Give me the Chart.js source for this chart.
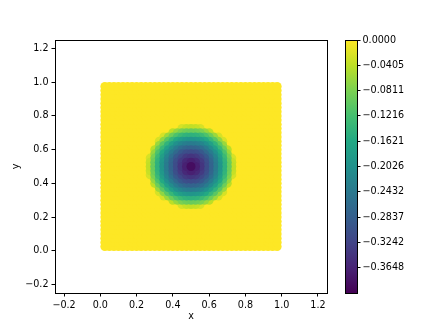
<!DOCTYPE html>
<html>
<head>
<meta charset="utf-8">
<script src="https://cdn.jsdelivr.net/npm/chart.js@4.4.1/dist/chart.umd.min.js"></script>
<style>
  html, body { margin: 0; padding: 0; background: #fff; }
  #wrap { position: relative; width: 439px; height: 329px; }
  #wrap canvas { position: absolute; left: 0; top: 0; }
</style>
</head>
<body>
<div id="wrap">
  <canvas id="field" width="439" height="329"></canvas>
  <canvas id="cbar" width="439" height="329"></canvas>
</div>
<script>
// grid point positions (same for x and y)
const gridPts = [0.025, 0.05, 0.075, 0.1, 0.125, 0.15, 0.175, 0.2, 0.225, 0.25,
                 0.275, 0.3, 0.325, 0.35, 0.375, 0.4, 0.425, 0.45, 0.475, 0.5,
                 0.525, 0.55, 0.575, 0.6, 0.625, 0.65, 0.675, 0.7, 0.725, 0.75,
                 0.775, 0.8, 0.825, 0.85, 0.875, 0.9, 0.925, 0.95, 0.975];

// values in the central block (grid index 10..28, i.e. 0.275..0.725), zero elsewhere
const blockStart = 10;
const blockVals = [
  [0,0,0,0,0,0,0,-0.025,-0.035,-0.038,-0.035,-0.025,0,0,0,0,0,0,0],
  [0,0,0,0,0,-0.041,-0.064,-0.081,-0.091,-0.094,-0.091,-0.081,-0.064,-0.041,0,0,0,0,0],
  [0,0,0,-0.025,-0.061,-0.091,-0.115,-0.132,-0.143,-0.147,-0.143,-0.132,-0.115,-0.091,-0.061,-0.025,0,0,0],
  [0,0,-0.025,-0.068,-0.105,-0.136,-0.161,-0.179,-0.191,-0.195,-0.191,-0.179,-0.161,-0.136,-0.105,-0.068,-0.025,0,0],
  [0,0,-0.061,-0.105,-0.143,-0.176,-0.202,-0.222,-0.234,-0.238,-0.234,-0.222,-0.202,-0.176,-0.143,-0.105,-0.061,0,0],
  [0,-0.041,-0.091,-0.136,-0.176,-0.210,-0.238,-0.259,-0.273,-0.277,-0.273,-0.259,-0.238,-0.210,-0.176,-0.136,-0.091,-0.041,0],
  [0,-0.064,-0.115,-0.161,-0.202,-0.238,-0.268,-0.292,-0.307,-0.312,-0.307,-0.292,-0.268,-0.238,-0.202,-0.161,-0.115,-0.064,0],
  [-0.025,-0.081,-0.132,-0.179,-0.222,-0.259,-0.292,-0.318,-0.336,-0.343,-0.336,-0.318,-0.292,-0.259,-0.222,-0.179,-0.132,-0.081,-0.025],
  [-0.035,-0.091,-0.143,-0.191,-0.234,-0.273,-0.307,-0.336,-0.358,-0.369,-0.358,-0.336,-0.307,-0.273,-0.234,-0.191,-0.143,-0.091,-0.035],
  [-0.038,-0.094,-0.147,-0.195,-0.238,-0.277,-0.312,-0.343,-0.369,-0.391,-0.369,-0.343,-0.312,-0.277,-0.238,-0.195,-0.147,-0.094,-0.038],
  [-0.035,-0.091,-0.143,-0.191,-0.234,-0.273,-0.307,-0.336,-0.358,-0.369,-0.358,-0.336,-0.307,-0.273,-0.234,-0.191,-0.143,-0.091,-0.035],
  [-0.025,-0.081,-0.132,-0.179,-0.222,-0.259,-0.292,-0.318,-0.336,-0.343,-0.336,-0.318,-0.292,-0.259,-0.222,-0.179,-0.132,-0.081,-0.025],
  [0,-0.064,-0.115,-0.161,-0.202,-0.238,-0.268,-0.292,-0.307,-0.312,-0.307,-0.292,-0.268,-0.238,-0.202,-0.161,-0.115,-0.064,0],
  [0,-0.041,-0.091,-0.136,-0.176,-0.210,-0.238,-0.259,-0.273,-0.277,-0.273,-0.259,-0.238,-0.210,-0.176,-0.136,-0.091,-0.041,0],
  [0,0,-0.061,-0.105,-0.143,-0.176,-0.202,-0.222,-0.234,-0.238,-0.234,-0.222,-0.202,-0.176,-0.143,-0.105,-0.061,0,0],
  [0,0,-0.025,-0.068,-0.105,-0.136,-0.161,-0.179,-0.191,-0.195,-0.191,-0.179,-0.161,-0.136,-0.105,-0.068,-0.025,0,0],
  [0,0,0,-0.025,-0.061,-0.091,-0.115,-0.132,-0.143,-0.147,-0.143,-0.132,-0.115,-0.091,-0.061,-0.025,0,0,0],
  [0,0,0,0,0,-0.041,-0.064,-0.081,-0.091,-0.094,-0.091,-0.081,-0.064,-0.041,0,0,0,0,0],
  [0,0,0,0,0,0,0,-0.025,-0.035,-0.038,-0.035,-0.025,0,0,0,0,0,0,0]
];

const axisTicks = [-0.2, 0.0, 0.2, 0.4, 0.6, 0.8, 1.0, 1.2];
const cbMin = -0.4053;
const cbMax = 0;
const cbTicks = [0, -0.0405, -0.0811, -0.1216, -0.1621, -0.2026, -0.2432, -0.2837, -0.3242, -0.3648];
const cbTickLabels = ['0.0000', '\u22120.0405', '\u22120.0811', '\u22120.1216', '\u22120.1621',
                      '\u22120.2026', '\u22120.2432', '\u22120.2837', '\u22120.3242', '\u22120.3648'];

// viridis colormap stops
const viridis = ['#440154', '#482475', '#414487', '#355f8d', '#2a788e', '#21918c',
                 '#22a884', '#44bf70', '#7ad151', '#bddf26', '#fde725'];

function hexToRgb(h) {
    return [parseInt(h.slice(1, 3), 16), parseInt(h.slice(3, 5), 16), parseInt(h.slice(5, 7), 16)];
}
const viridisRgb = viridis.map(hexToRgb);

function cmap(v) {
    let t = (v - cbMin) / (cbMax - cbMin);
    t = Math.max(0, Math.min(1, t));
    const p = t * (viridisRgb.length - 1);
    const i = Math.min(Math.floor(p), viridisRgb.length - 2);
    const f = p - i;
    const a = viridisRgb[i], b = viridisRgb[i + 1];
    const c = a.map((ch, k) => Math.round(ch + (b[k] - ch) * f));
    return `rgb(${c[0]}, ${c[1]}, ${c[2]})`;
}

function fieldValue(row, col) {
    const r = row - blockStart, c = col - blockStart;
    if (r >= 0 && r < blockVals.length && c >= 0 && c < blockVals.length) return blockVals[r][c];
    return 0;
}

const points = [];
gridPts.forEach((y, row) => {
    gridPts.forEach((x, col) => {
        points.push({ x: x, y: y, v: fieldValue(row, col) });
    });
});
// draw the lowest values last so they sit on top
points.sort((a, b) => b.v - a.v);

const fontFamily = "'DejaVu Sans', sans-serif";
const tickFont = { family: fontFamily, size: 9.6 };

const framePlugin = {
    id: 'frame',
    afterDraw(chart) {
        const { ctx, chartArea: a } = chart;
        ctx.save();
        ctx.strokeStyle = '#000';
        ctx.lineWidth = 1;
        ctx.strokeRect(Math.round(a.left) + 0.5, Math.round(a.top) + 0.5,
                       Math.round(a.right - a.left), Math.round(a.bottom - a.top));
        ctx.restore();
    }
};

function fixedTicks(list) {
    return function (scale) {
        scale.ticks = list.map(v => ({ value: v }));
    };
}

const fmt = v => (v < 0 ? '\u2212' : '') + Math.abs(v).toFixed(1);

new Chart(document.getElementById('field').getContext('2d'), {
    type: 'scatter',
    data: {
        datasets: [{
            data: points,
            pointRadius: 4.5,
            pointHoverRadius: 4.5,
            pointBorderWidth: 0,
            borderWidth: 0,
            backgroundColor: ctx => (ctx.raw ? cmap(ctx.raw.v) : '#fde725')
        }]
    },
    plugins: [framePlugin],
    options: {
        responsive: false,
        animation: false,
        events: [],
        layout: { padding: { left: 0, right: 112, top: 40, bottom: 0 } },
        plugins: { legend: { display: false }, tooltip: { enabled: false } },
        scales: {
            x: {
                type: 'linear',
                min: -0.25,
                max: 1.25,
                afterBuildTicks: fixedTicks(axisTicks),
                afterFit: s => { s.height = 36; },
                grid: { drawOnChartArea: false, drawTicks: true, tickLength: 3.5, color: '#000' },
                border: { display: true, color: '#000' },
                ticks: { font: tickFont, color: '#000', padding: 3, maxRotation: 0, callback: fmt },
                title: { display: true, text: 'x', font: tickFont, color: '#000', padding: { top: 0, bottom: 7 } }
            },
            y: {
                type: 'linear',
                min: -0.25,
                max: 1.25,
                afterBuildTicks: fixedTicks(axisTicks),
                afterFit: s => { s.width = 55; },
                grid: { drawOnChartArea: false, drawTicks: true, tickLength: 3.5, color: '#000' },
                border: { display: true, color: '#000' },
                ticks: { font: tickFont, color: '#000', padding: 3, callback: fmt },
                title: { display: true, text: 'y', font: tickFont, color: '#000', padding: { top: 11, bottom: 0 } }
            }
        }
    }
});

new Chart(document.getElementById('cbar').getContext('2d'), {
    type: 'bar',
    data: {
        labels: ['cb'],
        datasets: [{
            data: [[cbMin, cbMax]],
            barPercentage: 1,
            categoryPercentage: 1,
            borderWidth: 0,
            backgroundColor: ctx => {
                const { chartArea, ctx: c } = ctx.chart;
                if (!chartArea) return '#fde725';
                const g = c.createLinearGradient(0, chartArea.bottom, 0, chartArea.top);
                viridis.forEach((col, i) => g.addColorStop(i / (viridis.length - 1), col));
                return g;
            }
        }]
    },
    plugins: [framePlugin],
    options: {
        responsive: false,
        animation: false,
        events: [],
        layout: { padding: { left: 345, right: 22, top: 40, bottom: 36 } },
        plugins: { legend: { display: false }, tooltip: { enabled: false } },
        scales: {
            x: { display: false },
            y: {
                position: 'right',
                min: cbMin,
                max: cbMax,
                afterBuildTicks: fixedTicks(cbTicks),
                afterFit: s => { s.width = 60; },
                grid: { drawOnChartArea: false, drawTicks: true, tickLength: 3.5, color: '#000' },
                border: { display: false },
                ticks: {
                    font: tickFont, color: '#000', padding: 2, autoSkip: false,
                    callback: (v, i) => cbTickLabels[i]
                }
            }
        }
    }
});
</script>
</body>
</html>
